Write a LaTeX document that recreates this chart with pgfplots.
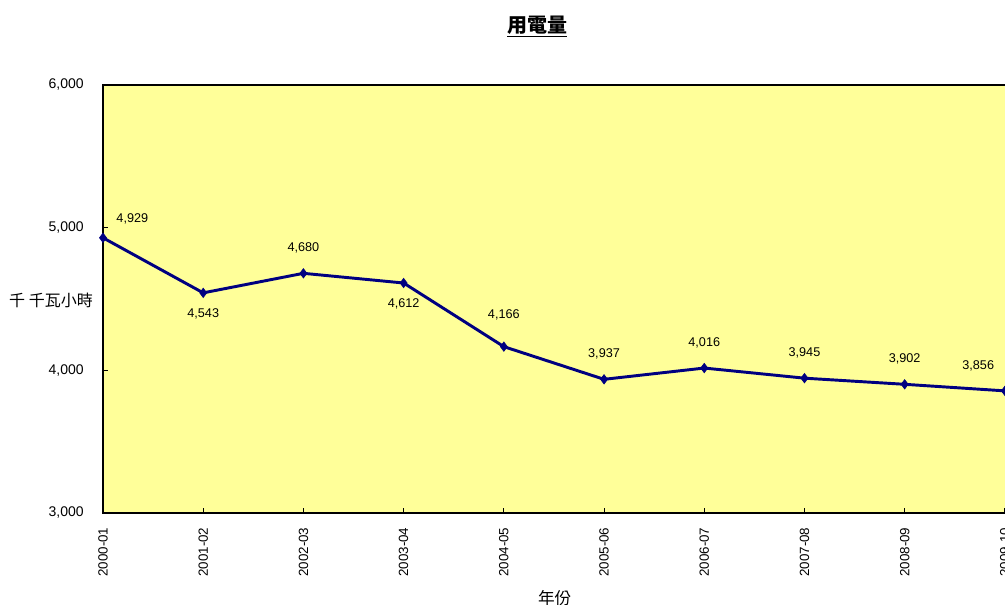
\documentclass[border=0pt]{standalone}
\usepackage{pgfplots}
\pgfplotsset{compat=1.18}
\usepackage{fontspec}
\setmainfont{Liberation Sans}
\newfontfamily\cjk{Noto Sans CJK TC}
\definecolor{plotbg}{HTML}{FFFF99}
\definecolor{navyline}{HTML}{000080}
\begin{document}
\begin{tikzpicture}
\begin{axis}[
  at={(77.25pt,69pt)}, anchor=south west,
  scale only axis,
  width=677.9pt, height=321pt,
  xmin=0, xmax=9.02,
  ymin=3000, ymax=6000,
  ytick={3000,4000,5000,6000},
  xtick={0,...,9},
  xticklabels={2000-01,2001-02,2002-03,2003-04,2004-05,2005-06,2006-07,2007-08,2008-09,2009-10},
  xticklabel style={rotate=90, anchor=east, font=\fontsize{10}{11}\selectfont, xshift=-7.5pt},
  yticklabel style={font=\fontsize{10.5}{11}\selectfont, xshift=-11pt},
  xtick pos=bottom, ytick pos=left,
  tick align=inside,
  major tick length=4pt,
  tick style={black, line width=0.6pt},
  /pgf/number format/1000 sep={,},
  /pgf/number format/assume math mode=true,
  scaled y ticks=false,
  axis background/.style={fill=plotbg},
  axis line style={black, line width=1pt},
  clip=false,
  nodes near coords style={font=\fontsize{9.5}{10}\selectfont, /pgf/number format/1000 sep={,}, /pgf/number format/assume math mode=true},
]
\addplot[color=navyline, line width=2.2pt, mark=diamond*, mark size=3.5pt, mark options={fill=navyline, line width=0.5pt}]
  coordinates {(0,4929) (1,4543) (2,4680) (3,4612) (4,4166) (5,3937) (6,4016) (7,3945) (8,3902) (9,3856)};
% labels above
\addplot[draw=none, mark=none, nodes near coords, point meta=y,
  every node near coord/.append style={anchor=center, yshift=19pt}]
  coordinates {(2,4680) (5,3937) (6,4016) (7,3945) (8,3902)};
\addplot[draw=none, mark=none, nodes near coords, point meta=y,
  every node near coord/.append style={anchor=center, yshift=24pt}]
  coordinates {(4,4166)};
\addplot[draw=none, mark=none, nodes near coords, point meta=y,
  every node near coord/.append style={anchor=center, xshift=-20pt, yshift=19pt}]
  coordinates {(9,3856)};
% labels below
\addplot[draw=none, mark=none, nodes near coords, point meta=y,
  every node near coord/.append style={anchor=center, yshift=-16pt}]
  coordinates {(1,4543) (3,4612)};
% first label
\addplot[draw=none, mark=none, nodes near coords, point meta=y,
  every node near coord/.append style={anchor=center, xshift=22pt, yshift=14pt}]
  coordinates {(0,4929)};
\end{axis}
\node[font=\cjk\bfseries\fontsize{15}{16}\selectfont] at (402.75pt,434pt) {\underline{用電量}};
\node[font=\cjk\fontsize{12}{13}\selectfont] at (38.25pt,228.75pt) {千 千瓦小時};
\node[font=\cjk\fontsize{12.5}{13}\selectfont] at (416pt,5.5pt) {年份};
\pgfresetboundingbox
\path[use as bounding box] (0,0) rectangle (753.75pt,453.75pt);
\end{tikzpicture}
\end{document}
